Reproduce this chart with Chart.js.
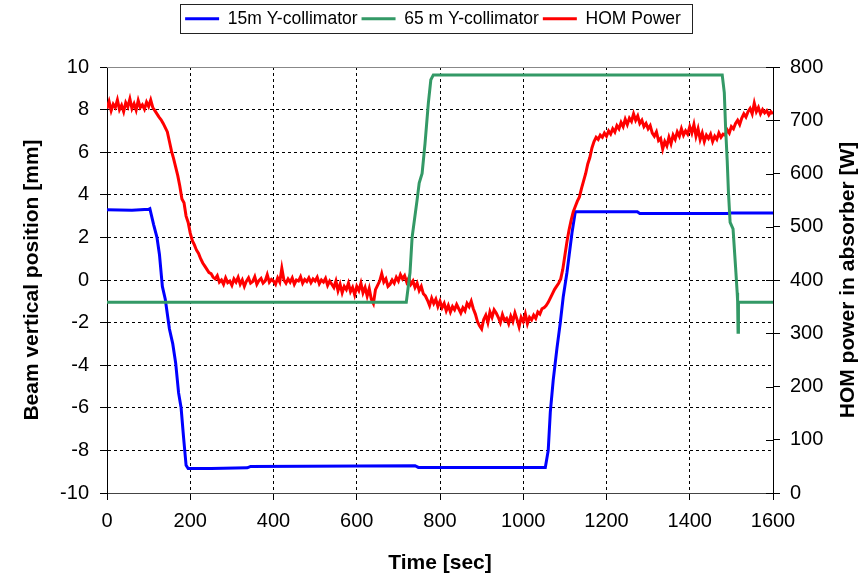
<!DOCTYPE html>
<html>
<head>
<meta charset="utf-8">
<script src="https://cdn.jsdelivr.net/npm/chart.js@4/dist/chart.umd.min.js"></script>
<style>
  body { margin: 0; background: #fff; }
  #wrap { width: 866px; height: 576px; }
</style>
</head>
<body>
<div id="wrap"><canvas id="myChart" width="866" height="576"></canvas></div>
<script>
// series labels
const seriesNames = ["15m Y-collimator", "65 m Y-collimator", "HOM Power"];

// 15m collimator position [mm]: time, value
const blueTimes = [0, 60, 100, 103, 112, 120, 126, 133, 140, 150, 158, 165, 172, 178, 184, 190, 195, 250, 337, 345, 740, 748, 1053, 1060, 1065, 1072, 1081, 1089, 1096, 1105, 1117, 1125, 1274, 1280, 1490, 1500, 1600];
const blueValues = [3.3, 3.28, 3.32, 3.35, 2.6, 2.0, 1.2, -0.3, -0.9, -2.3, -3.0, -3.9, -5.3, -6.0, -7.4, -8.7, -8.85, -8.85, -8.82, -8.75, -8.72, -8.8, -8.8, -8.0, -6.2, -4.7, -3.2, -2.0, -0.8, 0.35, 2.2, 3.2, 3.2, 3.12, 3.12, 3.15, 3.15];

// 65 m collimator position [mm]
const greenTimes = [0, 719, 728, 733, 745, 750, 757, 764, 772, 778, 784, 1478, 1483, 1486, 1490, 1493, 1497, 1504, 1510, 1514, 1515, 1516, 1517, 1600];
const greenValues = [-1.05, -1.05, 0.35, 2.0, 3.76, 4.55, 5.0, 6.4, 8.3, 9.4, 9.63, 9.63, 8.8, 7.2, 5.6, 4.1, 2.7, 2.4, 0.63, -0.6, -1.0, -2.45, -1.05, -1.05];

// HOM power [W], one reading every 5 s from t = 0
const homStep = 5;
const homValues = [
  722, 735, 718, 730, 724, 738, 720, 728, 716, 733, 725, 740, 722, 731, 719, 737, 724, 729, 721, 734,
  726, 738, 724, 718, 712, 706, 701, 694, 686, 678, 660, 642, 628, 612, 596, 576, 552, 545, 520, 508,
  488, 474, 466, 456, 450, 440, 432, 426, 420, 414, 412, 405, 402, 408, 396, 400, 392, 404, 395, 398,
  390, 402, 396, 405, 392, 400, 388, 398, 404, 394, 397, 406, 392, 399, 403, 394, 398, 410, 396, 401,
  398, 392, 404, 396, 422, 400, 394, 402, 396, 404, 392, 400, 398, 406, 394, 401, 397, 404, 395, 402,
  398, 405, 393, 400, 396, 403, 390, 398, 392, 386, 398, 380, 392, 376, 388, 382, 394, 378, 386, 372,
  388, 380, 394, 376, 386, 370, 384, 364, 356, 382, 390, 398, 412, 396, 402, 388, 392, 400, 394, 405,
  398, 410, 402, 408, 396, 404, 392, 398, 386, 394, 380, 388, 374, 370, 362, 352, 366, 356, 364, 350,
  360, 348, 356, 342, 352, 340, 350, 344, 354, 346, 338, 348, 342, 356, 350, 360, 346, 336, 322, 314,
  308, 326, 334, 320, 340, 330, 344, 338, 330, 320, 335, 324, 328, 318, 332, 322, 338, 326, 312, 330,
  322, 336, 318, 330, 325, 334, 328, 340, 336, 346, 348, 352, 358, 366, 374, 382, 388, 394, 402, 420,
  446, 472, 494, 512, 528, 538, 548, 556, 572, 586, 600, 618, 630, 648, 660, 668, 664, 672, 668, 676,
  670, 680, 674, 684, 678, 690, 684, 696, 688, 702, 692, 704, 698, 712, 700, 708, 694, 700, 688, 694,
  684, 690, 676, 670, 678, 662, 666, 646, 660, 652, 668, 656, 672, 664, 678, 670, 684, 672, 680, 674,
  688, 676, 692, 670, 684, 664, 676, 660, 672, 666, 674, 660, 670, 664, 676, 668, 674, 672, 682, 676,
  688, 684, 694, 700, 692, 704, 712, 706, 716, 722, 712, 732, 716, 724, 712, 720, 714, 718, 710, 716, 712
];

const xTitle = "Time [sec]";
const yTitle = "Beam vertical position [mm]";
const y2Title = "HOM power in absorber [W]";

const FONT = "'Liberation Sans', Arial, sans-serif";

const bluePts = blueTimes.map((t, i) => ({ x: t, y: blueValues[i] }));
const greenPts = greenTimes.map((t, i) => ({ x: t, y: greenValues[i] }));
const homPts = homValues.map((v, i) => ({ x: i * homStep, y: v }));

// plain numbers on the ticks (no thousands separator)
const plain = v => String(v);

// legend: fixed height + frame around the items
const legendBox = {
  id: "legendBox",
  beforeInit(chart) {
    const fit = chart.legend.fit;
    chart.legend.fit = function () {
      fit.bind(chart.legend)();
      this.height = 61;
    };
  },
  afterDraw(chart) {
    const boxes = chart.legend.legendHitBoxes;
    if (!boxes || !boxes.length) return;
    const first = boxes[0];
    const last = boxes[boxes.length - 1];
    const ctx = chart.ctx;
    ctx.save();
    ctx.strokeStyle = "#222";
    ctx.lineWidth = 1;
    const x0 = Math.round(first.left - 5) + 0.5;
    const x1 = Math.round(last.left + last.width + 11) + 0.5;
    ctx.strokeRect(x0, 4.5, x1 - x0, 29);
    ctx.restore();
  }
};

// top frame line, inner right ticks, right axis title (reads bottom to top)
const extras = {
  id: "extras",
  afterDraw(chart) {
    const ctx = chart.ctx;
    const a = chart.chartArea;
    ctx.save();
    ctx.strokeStyle = "#888";
    ctx.lineWidth = 1;
    ctx.beginPath();
    ctx.moveTo(a.left, Math.round(a.top) + 0.5);
    ctx.lineTo(a.right, Math.round(a.top) + 0.5);
    ctx.stroke();

    const y2 = chart.scales.y2;
    ctx.strokeStyle = "#000";
    ctx.beginPath();
    y2.ticks.forEach(t => {
      const py = Math.round(y2.getPixelForValue(t.value)) + 0.5;
      ctx.moveTo(a.right - 7, py);
      ctx.lineTo(a.right, py);
    });
    ctx.stroke();

    ctx.translate(848, (a.top + a.bottom) / 2);
    ctx.rotate(-Math.PI / 2);
    ctx.fillStyle = "#000";
    ctx.font = "bold 21px " + FONT;
    ctx.textAlign = "center";
    ctx.textBaseline = "middle";
    ctx.fillText(y2Title, 0, 0);
    ctx.restore();
  }
};

const ctx = document.getElementById("myChart").getContext("2d");
const myChart = new Chart(ctx, {
  type: "line",
  data: {
    datasets: [
      {
        label: seriesNames[0],
        data: bluePts,
        borderColor: "#0000ff",
        backgroundColor: "#0000ff",
        borderWidth: 3,
        yAxisID: "y",
        order: 3,
      },
      {
        label: seriesNames[1],
        data: greenPts,
        borderColor: "#339966",
        backgroundColor: "#339966",
        borderWidth: 3,
        yAxisID: "y",
        order: 1,
      },
      {
        label: seriesNames[2],
        data: homPts,
        borderColor: "#ff0000",
        backgroundColor: "#ff0000",
        borderWidth: 3,
        yAxisID: "y2",
        order: 2,
      },
    ],
  },
  options: {
    responsive: false,
    animation: false,
    layout: { padding: { top: 6, left: 0, right: 0, bottom: 0 } },
    elements: { point: { radius: 0 }, line: { tension: 0 } },
    plugins: {
      tooltip: { enabled: false },
      legend: {
        position: "top",
        labels: {
          usePointStyle: true,
          pointStyle: "line",
          pointStyleWidth: 34,
          padding: 4,
          color: "#000",
          font: { family: FONT, size: 17.5 },
          sort: (a, b) => a.datasetIndex - b.datasetIndex,
        },
      },
    },
    scales: {
      x: {
        type: "linear",
        position: "bottom",
        min: 0,
        max: 1600,
        ticks: { stepSize: 200, color: "#000", padding: 9, font: { family: FONT, size: 20 }, callback: plain },
        grid: { color: "#000", tickLength: 7, tickBorderDash: [], tickColor: "#000" },
        border: { color: "#444", dash: [3, 3] },
        title: { display: true, text: xTitle, color: "#000", padding: { top: 0, bottom: 0 }, font: { family: FONT, size: 21, weight: "bold" } },
        afterFit: s => { s.height = 83; },
      },
      y: {
        type: "linear",
        position: "left",
        min: -10,
        max: 10,
        ticks: { stepSize: 2, color: "#000", padding: 11, font: { family: FONT, size: 20 }, callback: plain },
        grid: { color: "#000", tickLength: 7, tickBorderDash: [], tickColor: "#000" },
        border: { color: "#000", dash: [3, 3] },
        title: { display: true, text: yTitle, color: "#000", padding: { top: 20, bottom: 0 }, font: { family: FONT, size: 21, weight: "bold" } },
        afterFit: s => { s.width = 107; },
      },
      y2: {
        type: "linear",
        position: "right",
        min: 0,
        max: 800,
        ticks: { stepSize: 100, color: "#000", padding: 10, font: { family: FONT, size: 20 }, callback: plain },
        grid: { drawOnChartArea: false, color: "#000", tickLength: 7, tickBorderDash: [] },
        border: { color: "#000" },
        afterFit: s => { s.width = 93; },
      },
    },
  },
  plugins: [legendBox, extras],
});
</script>
</body>
</html>
